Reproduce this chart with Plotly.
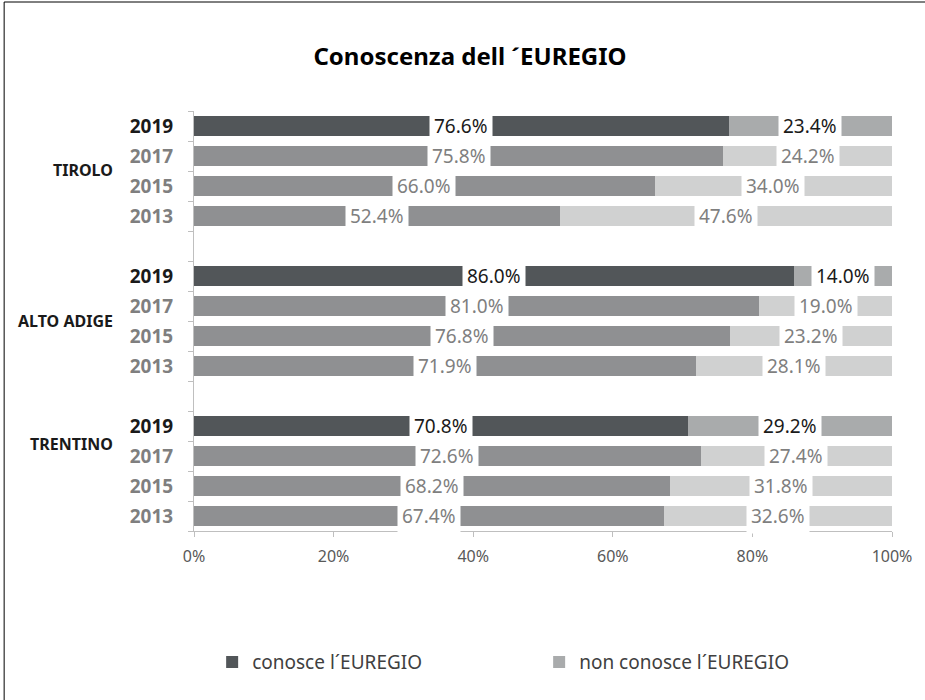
import plotly.graph_objects as go

# ---- data ----
regions = ["TIROLO", "ALTO ADIGE", "TRENTINO"]
years = ["2019", "2017", "2015", "2013"]
conosce_tirolo = [76.6, 75.8, 66.0, 52.4]
conosce_alto_adige = [86.0, 81.0, 76.8, 71.9]
conosce_trentino = [70.8, 72.6, 68.2, 67.4]
non_tirolo = [23.4, 24.2, 34.0, 47.6]
non_alto_adige = [14.0, 19.0, 23.2, 28.1]
non_trentino = [29.2, 27.4, 31.8, 32.6]
x_ticks = [0, 20, 40, 60, 80, 100]
x_ticklabels = ["0%", "20%", "40%", "60%", "80%", "100%"]
series_names = ["conosce l´EUREGIO", "non conosce l´EUREGIO"]
title_text = "Conoscenza dell ´EUREGIO"

conosce = [conosce_tirolo, conosce_alto_adige, conosce_trentino]
non_con = [non_tirolo, non_alto_adige, non_trentino]

# ---- styles ----
FONT = "Noto Sans"
C_DARK, C_MED = "#525659", "#8f9092"
C_NON_DARK, C_NON_LIGHT = "#a9abac", "#d0d1d1"
TXT_DARK, TXT_GRAY = "#1a1a1a", "#7f7f7f"
AX = "#bfbfbf"
group_label_offset = [1.45, 1.5, 0.6]

ys, c_vals, n_vals, c_cols, n_cols, txt_cols, ticktext = [], [], [], [], [], [], []
for g in range(len(regions)):
    for i, yr in enumerate(years):
        ys.append(g * (len(years) + 1) + i)
        c_vals.append(conosce[g][i])
        n_vals.append(non_con[g][i])
        latest = (i == 0)
        c_cols.append(C_DARK if latest else C_MED)
        n_cols.append(C_NON_DARK if latest else C_NON_LIGHT)
        col = TXT_DARK if latest else TXT_GRAY
        txt_cols.append(col)
        ticktext.append(f"<b><span style='color:{col}'>{yr}</span></b>")

fig = go.Figure()
fig.add_trace(go.Bar(y=ys, x=c_vals, orientation="h", name=series_names[0],
                     marker=dict(color=c_cols, line=dict(width=0)), width=0.66,
                     hoverinfo="skip"))
fig.add_trace(go.Bar(y=ys, x=n_vals, orientation="h", name=series_names[1],
                     marker=dict(color=n_cols, line=dict(width=0)), width=0.66,
                     hoverinfo="skip"))

annotations = []
for y, c, n, col in zip(ys, c_vals, n_vals, txt_cols):
    for xv, val in ((c / 2, c), (c + n / 2, n)):
        annotations.append(dict(x=xv, y=y, xref="x", yref="y", text=f"{val:.1f}%",
                                showarrow=False, bgcolor="white", borderpad=4,
                                font=dict(family=FONT, size=19, color=col)))
for g, reg in enumerate(regions):
    annotations.append(dict(x=-0.113, xref="paper", y=g * (len(years) + 1) + group_label_offset[g],
                            yref="y", text=f"<b>{reg}</b>", showarrow=False,
                            xanchor="right", font=dict(family=FONT, size=16, color="#1a1a1a")))

n_slots = len(regions) * (len(years) + 1) - 1  # 14 slots incl. 2 spacers
fig.update_layout(
    width=925, height=700,
    margin=dict(l=194, r=33, t=111, b=169),
    paper_bgcolor="white", plot_bgcolor="white",
    barmode="stack", bargap=0,
    title=dict(text=f"<b>{title_text}</b>", x=470 / 925, xanchor="center",
               y=1 - 57 / 700, yanchor="middle",
               font=dict(family=FONT, size=24, color="#000000")),
    xaxis=dict(range=[0, 100], tickvals=x_ticks, ticktext=x_ticklabels, showgrid=False,
               zeroline=False, showline=True, linecolor=AX, linewidth=1,
               ticks="outside", ticklen=5, tickcolor=AX, ticklabelstandoff=6,
               tickfont=dict(family=FONT, size=16, color="#595959")),
    yaxis=dict(range=[n_slots - 0.5, -0.5], tickvals=ys, ticktext=ticktext,
               showgrid=False, zeroline=False, showline=True, linecolor=AX,
               ticks="", ticklabelstandoff=16,
               tickfont=dict(family=FONT, size=19),
               minor=dict(tickmode="array",
                          tickvals=[k - 0.5 for k in range(n_slots + 1)],
                          ticks="outside", ticklen=5, tickcolor=AX, showgrid=False)),
    legend=dict(orientation="h", x=0.026, xanchor="left", y=-0.312, yanchor="middle",
                entrywidth=282, entrywidthmode="pixels", traceorder="normal",
                font=dict(family=FONT, size=19, color="#404040")),
    annotations=annotations,
    shapes=[
        dict(type="line", xref="paper", yref="paper", x0=-0.272, x1=-0.272,
             y0=1.2595, y1=-0.41, line=dict(color="#000000", width=1)),
        dict(type="line", xref="paper", yref="paper", x0=-0.272, x1=1.06,
             y0=1.2595, y1=1.2595, line=dict(color="#000000", width=1)),
    ],
    showlegend=True,
)

fig.write_html("out.html", config={"displayModeBar": False},
               post_script="document.body.style.margin='0px';")
